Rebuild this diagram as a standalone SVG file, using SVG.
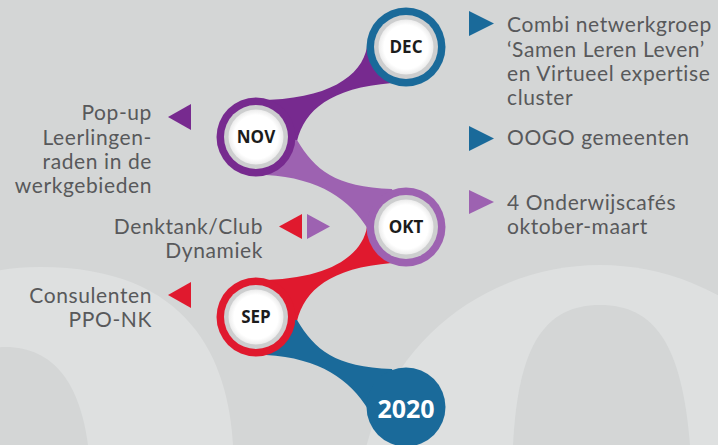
<svg xmlns="http://www.w3.org/2000/svg" width="718" height="445" viewBox="0 0 718 445">
<defs>
<radialGradient id="wg" cx="50%" cy="50%" r="50%">
<stop offset="0.8" stop-color="#ffffff"/>
<stop offset="1" stop-color="#ececec"/>
</radialGradient>
<style>
.lbl{font-family:Lato,"Open Sans","DejaVu Sans",sans-serif;font-size:21px;letter-spacing:0.6px;fill:#58595b}
.end{text-anchor:end}
.mon{font-family:"Open Sans","Noto Sans","DejaVu Sans",sans-serif;font-size:17px;font-weight:bold;fill:#1c1c1c;text-anchor:middle}
.gray{fill:#cdcecf}
.white{fill:url(#wg)}
.blue{fill:#1a6a9a}
.purple{fill:#772a8f}
.lilac{fill:#9d62b1}
.red{fill:#e0192e}
.bgl{fill:#dee0e0}
.bgd{fill:#d4d6d6}
</style>
</defs>
<rect width="718" height="445" class="bgd"/>
<g id="background">
<path class="bgl" d="M 233 445 C 228 360 190 267 40 267 C -60 267 -120 320 -120 445 Z"/>
<path class="bgd" d="M 88 445 C 80 385 55 347 5 347 C -40 347 -60 380 -60 445 Z"/>
<ellipse class="bgl" cx="600" cy="500" rx="240" ry="235"/>
<path class="bgd" d="M 513 445 C 518 345 545 305 600 305 C 655 305 682 345 690 445 Z"/>
</g>
<g id="connectors">
<path class="purple" d="M 367 47 C 362 76 328 100 258 100 L 256 137 L 297 141 C 305 110 330 88 392 83 L 406 47 Z"/>
<path class="lilac" d="M 297 140 C 315 170 335 187 392 189 L 406 227 L 368 229 C 350 200 320 178 266 175 L 256 137 Z"/>
<path class="red" transform="translate(0,180)" d="M 367 47 C 362 76 328 100 258 100 L 256 137 L 297 141 C 305 110 330 88 392 83 L 406 47 Z"/>
<path class="blue" transform="translate(0,180)" d="M 297 140 C 315 170 335 187 392 189 L 406 227 L 368 229 C 350 200 320 178 266 175 L 256 137 Z"/>
</g>
<g id="dec">
<circle cx="406" cy="47" r="39.5" class="blue"/>
<circle cx="406" cy="47" r="32" class="gray"/>
<circle cx="406" cy="47" r="27.5" class="white"/>
<text x="406" y="53" class="mon">DEC</text>
</g>
<g id="nov">
<circle cx="256" cy="137" r="39.5" class="purple"/>
<circle cx="256" cy="137" r="32" class="gray"/>
<circle cx="256" cy="137" r="27.5" class="white"/>
<text x="256" y="143" class="mon">NOV</text>
</g>
<g id="okt">
<circle cx="406" cy="227" r="39.5" class="lilac"/>
<circle cx="406" cy="227" r="32" class="gray"/>
<circle cx="406" cy="227" r="27.5" class="white"/>
<text x="406" y="233" class="mon">OKT</text>
</g>
<g id="sep">
<circle cx="256" cy="317" r="39.5" class="red"/>
<circle cx="256" cy="317" r="32" class="gray"/>
<circle cx="256" cy="317" r="27.5" class="white"/>
<text x="256" y="323" class="mon">SEP</text>
</g>
<g id="y2020">
<circle cx="406" cy="407" r="39.5" class="blue"/>
<text x="406" y="418" style="font-family:'Open Sans','Noto Sans',sans-serif;font-size:25px;font-weight:bold;fill:#ffffff;text-anchor:middle">2020</text>
</g>
<g id="note-dec">
<polygon class="blue" points="469,11 494,23.5 469,36"/>
<text class="lbl" x="507" y="32">Combi netwerkgroep</text>
<text class="lbl" x="507" y="56.5">‘Samen Leren Leven’</text>
<text class="lbl" x="507" y="81">en Virtueel expertise</text>
<text class="lbl" x="507" y="105">cluster</text>
</g>
<g id="note-oogo">
<polygon class="blue" points="469,126 494,138.5 469,151"/>
<text class="lbl" x="507" y="145">OOGO gemeenten</text>
</g>
<g id="note-okt">
<polygon class="lilac" points="469,190 494,202 469,214"/>
<text class="lbl" x="507" y="210">4 Onderwijscafés</text>
<text class="lbl" x="507" y="234">oktober-maart</text>
</g>
<g id="note-nov">
<polygon class="purple" points="191,104 168,117 191,130"/>
<text class="lbl end" x="152" y="120">Pop-up</text>
<text class="lbl end" x="152" y="144.5">Leerlingen-</text>
<text class="lbl end" x="152" y="169">raden in de</text>
<text class="lbl end" x="152" y="193">werkgebieden</text>
</g>
<g id="note-denktank">
<polygon class="red" points="302,214 279,226.5 302,239"/>
<polygon class="lilac" points="307,214 330,226.5 307,239"/>
<text class="lbl end" x="263" y="234">Denktank/Club</text>
<text class="lbl end" x="263" y="258">Dynamiek</text>
</g>
<g id="note-sep">
<polygon class="red" points="191,282 168,295 191,308"/>
<text class="lbl end" x="152" y="303">Consulenten</text>
<text class="lbl end" x="152" y="327">PPO-NK</text>
</g>
</svg>
